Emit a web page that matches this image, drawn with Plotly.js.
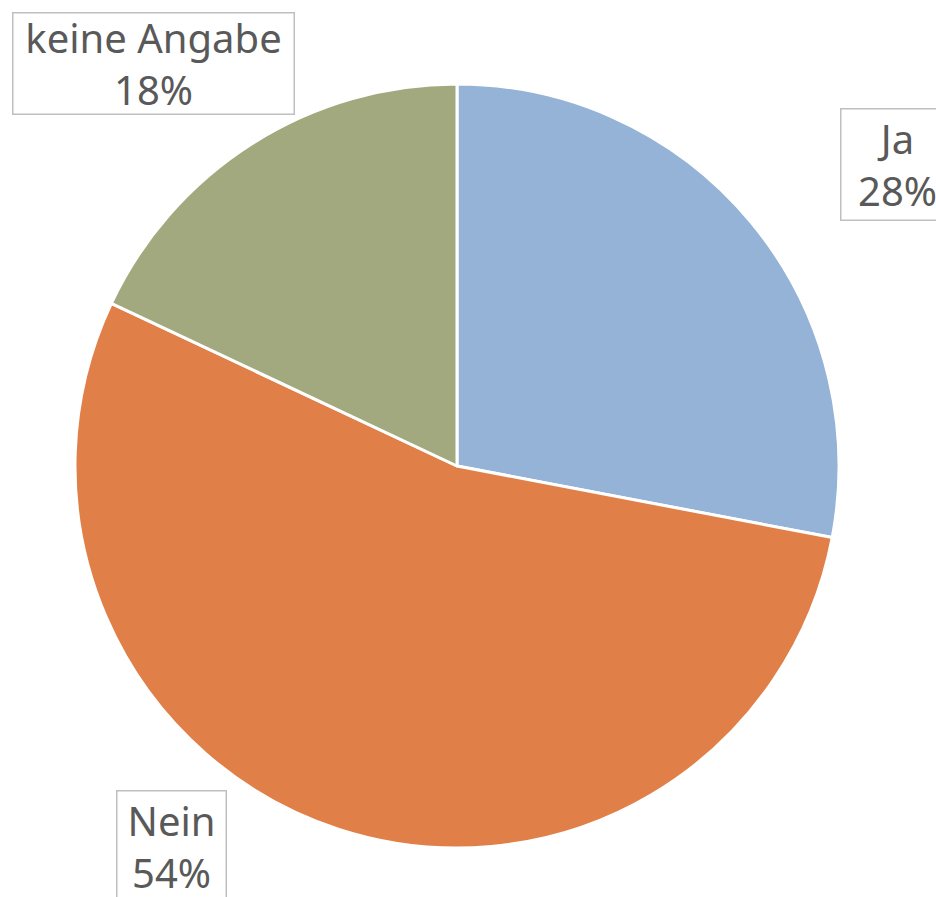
<!DOCTYPE html>
<html>
<head>
<meta charset="utf-8">
<script src="https://cdn.plot.ly/plotly-3.0.1.min.js"></script>
<style>html,body{margin:0;padding:0;background:#fff;}#chart{width:936px;height:897px;}</style>
</head>
<body>
<div id="chart"></div>
<script>
const labels = ['Ja', 'Nein', 'keine Angabe'];
const values = [28, 54, 18];
const colors = ['#95B3D7', '#E08048', '#A3A97E'];
const percentText = ['28%', '54%', '18%'];

const data = [{
  type: 'pie',
  labels: labels,
  values: values,
  sort: false,
  direction: 'clockwise',
  rotation: 0,
  textinfo: 'none',
  hoverinfo: 'label+percent',
  marker: {colors: colors, line: {color: '#ffffff', width: 3}},
  domain: {x: [75/936, 839/936], y: [(897-848)/897, (897-84)/897]}
}];

const boxes = [
  {x: 840/936, y: 1 - 108/897, w: 104, h: 102},
  {x: 116/936, y: 1 - 790/897, w: 100, h: 102},
  {x: 12/936, y: 1 - 12/897, w: 272, h: 92}
];

const annotations = labels.map((l, i) => ({
  xref: 'paper', yref: 'paper',
  x: boxes[i].x, y: boxes[i].y,
  xanchor: 'left', yanchor: 'top',
  text: l + '<br>' + percentText[i],
  showarrow: false,
  width: boxes[i].w, height: boxes[i].h,
  align: 'center', valign: 'middle',
  font: {family: 'Noto Sans, DejaVu Sans, sans-serif', size: 40, color: '#595959'},
  bordercolor: '#BFBFBF', borderwidth: 1.5, borderpad: 4,
  bgcolor: '#ffffff'
}));

const layout = {
  width: 936, height: 897,
  margin: {l: 0, r: 0, t: 0, b: 0},
  paper_bgcolor: '#ffffff',
  showlegend: false,
  annotations: annotations
};

Plotly.newPlot('chart', data, layout, {displayModeBar: false, staticPlot: true});
</script>
</body>
</html>
